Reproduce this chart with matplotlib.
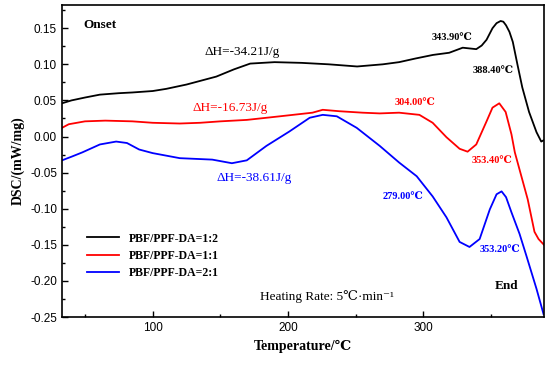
import matplotlib
matplotlib.use("Agg")
import matplotlib.pyplot as plt
from matplotlib.ticker import MultipleLocator

# curve readings (temperature in C, DSC in mW/mg)
t_12 = [33, 40, 50, 61, 75, 85, 100, 110, 125, 147, 160, 172, 190, 210, 230, 251,
        270, 282, 294, 307, 319, 329, 334, 339, 343, 346.6, 351, 354, 357, 359,
        361, 363.5, 366, 369.5, 373, 378, 383.5, 387, 389]
dsc_12 = [0.046, 0.050, 0.054, 0.058, 0.060, 0.061, 0.063, 0.066, 0.072, 0.083,
          0.093, 0.101, 0.103, 0.102, 0.100, 0.097, 0.100, 0.103, 0.108, 0.113,
          0.116, 0.123, 0.122, 0.121, 0.126, 0.134, 0.150, 0.157, 0.160, 0.159,
          0.154, 0.145, 0.131, 0.099, 0.068, 0.034, 0.006, -0.007, -0.005]

t_11 = [33, 38, 50, 65, 85, 100, 120, 135, 150, 169.5, 194, 218, 225.6, 238, 255,
        267.7, 282, 297, 306.8, 317, 326.7, 332.6, 339, 346.6, 351, 356, 360.7,
        365, 367.5, 371, 377, 382, 385, 389]
dsc_11 = [0.012, 0.017, 0.021, 0.022, 0.021, 0.019, 0.018, 0.019, 0.021, 0.023,
          0.028, 0.033, 0.037, 0.035, 0.033, 0.032, 0.033, 0.030, 0.019, -0.001,
          -0.017, -0.021, -0.011, 0.021, 0.040, 0.046, 0.034, 0.003, -0.022,
          -0.046, -0.087, -0.132, -0.142, -0.150]

t_21 = [33, 40, 48, 61, 73, 81, 90, 100, 120, 144, 158.5, 169.5, 184, 201, 216,
        225.6, 236, 250.7, 267.7, 282, 295, 306.8, 317, 326.7, 334, 341.5, 349,
        354, 357.7, 361, 365, 371, 376, 383.5, 388.7]
dsc_21 = [-0.033, -0.028, -0.022, -0.011, -0.007, -0.009, -0.018, -0.023, -0.030,
          -0.032, -0.037, -0.033, -0.013, 0.007, 0.026, 0.030, 0.028, 0.012,
          -0.013, -0.036, -0.055, -0.083, -0.112, -0.146, -0.153, -0.142, -0.101,
          -0.080, -0.076, -0.084, -0.105, -0.135, -0.165, -0.211, -0.246]

labels = ["PBF/PPF-DA=1:2", "PBF/PPF-DA=1:1", "PBF/PPF-DA=2:1"]
colors = ["black", "red", "blue"]

serif = ["Liberation Serif", "DejaVu Serif"]

fig = plt.figure(figsize=(5.5, 3.65), dpi=100)
ax = fig.add_axes([0.1127, 0.1315, 0.8763, 0.8545])

for t, d, lab, c in zip([t_12, t_11, t_21], [dsc_12, dsc_11, dsc_21], labels, colors):
    ax.plot(t, d, color=c, lw=1.3, label=lab)

ax.set_xlim(33, 389)
ax.set_ylim(-0.25, 0.182)
ax.xaxis.set_major_locator(MultipleLocator(100))
ax.xaxis.set_minor_locator(MultipleLocator(50))
ax.yaxis.set_major_locator(MultipleLocator(0.05))
ax.yaxis.set_minor_locator(MultipleLocator(0.025))
ax.tick_params(which="both", direction="in", top=False, right=False,
               labelsize=8.5, width=1)
ax.tick_params(which="major", length=4)
ax.tick_params(which="minor", length=2.5)
ax.yaxis.set_major_formatter(plt.FormatStrFormatter("%.2f"))
for lbl in ax.get_xticklabels() + ax.get_yticklabels():
    lbl.set_family(["Liberation Sans", "DejaVu Sans"])
for sp in ax.spines.values():
    sp.set_linewidth(1.2)

ax.set_xlabel("Temperature/℃", family=serif, fontweight="bold", fontsize=10)
ax.set_ylabel("DSC/(mW/mg)", family=serif, fontweight="bold", fontsize=10)

leg = ax.legend(loc="upper left", bbox_to_anchor=(0.03, 0.305), frameon=False,
                handlelength=2.7, labelspacing=0.45,
                prop={"family": serif, "weight": "bold", "size": 8.5})

big = dict(family=serif, fontsize=9.5, va="center", ha="left")
ax.text(48.5, 0.154, "Onset", fontweight="bold", **big)
ax.text(138.5, 0.117, "ΔH=-34.21J/g", color="black", **big)
ax.text(129.7, 0.040, "ΔH=-16.73J/g", color="red", **big)
ax.text(147.4, -0.057, "ΔH=-38.61J/g", color="blue", **big)
ax.text(352.6, -0.207, "End", fontweight="bold", **big)
ax.text(179, -0.221, "Heating Rate: 5℃·min⁻¹", **big)

small = dict(family=serif, fontsize=7.5, fontweight="bold", va="center", ha="left")
ax.text(306, 0.137, "343.90℃", color="black", **small)
ax.text(336.3, 0.091, "388.40℃", color="black", **small)
ax.text(278.8, 0.047, "304.00℃", color="red", **small)
ax.text(335.6, -0.033, "353.40℃", color="red", **small)
ax.text(269.9, -0.083, "279.00℃", color="blue", **small)
ax.text(341.5, -0.157, "353.20℃", color="blue", **small)

fig.savefig("out.png", dpi=100)
